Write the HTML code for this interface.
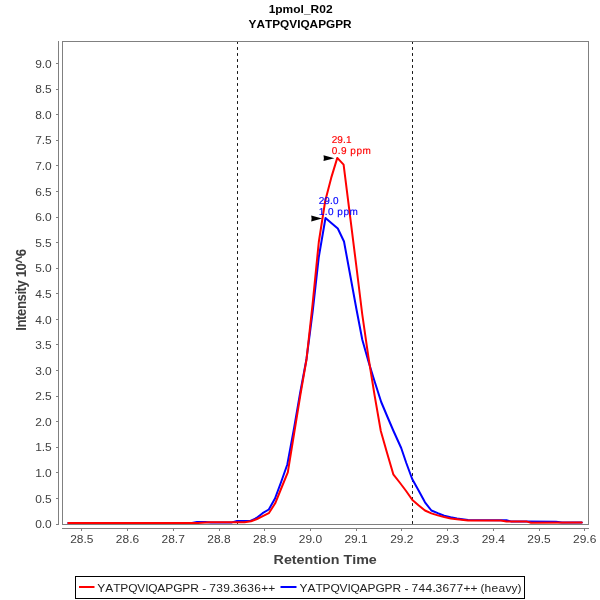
<!DOCTYPE html>
<html><head><meta charset="utf-8"><title>chart</title>
<style>
html,body{margin:0;padding:0;background:#fff;}
body{width:600px;height:600px;overflow:hidden;}
svg{display:block;will-change:transform;}
text{font-family:"Liberation Sans",sans-serif;font-kerning:none;}
.t{fill:#404040;}
.b{font-weight:bold;}
</style></head><body>
<svg width="600" height="600" viewBox="0 0 600 600">
<rect x="0" y="0" width="600" height="600" fill="#ffffff"/>
<text transform="translate(300.6,13) scale(1.09,1)" font-size="11" text-anchor="middle" class="b" fill="#000">1pmol_R02</text>
<text transform="translate(300.1,27.6) scale(1.075,1)" font-size="11" text-anchor="middle" class="b" fill="#000">YATPQVIQAPGPR</text>
<line x1="237.5" y1="41.1" x2="237.5" y2="524" stroke="#111" stroke-width="1" stroke-dasharray="2.8,3.2"/>
<line x1="412.5" y1="41.1" x2="412.5" y2="524" stroke="#111" stroke-width="1" stroke-dasharray="2.8,3.2"/>
<polyline points="68.3,523.0 192.0,523.0 197.0,521.9 205.0,521.9 211.0,522.4 232.0,522.4 237.0,520.9 247.0,520.9 250.4,521.0 256.5,518.0 262.6,513.2 268.8,509.5 275.0,498.5 281.3,481.5 287.3,464.5 294.1,428.0 300.3,392.0 306.5,359.0 312.6,312.0 318.8,257.0 325.5,218.0 331.6,223.2 337.8,228.5 344.0,241.5 350.4,276.2 356.6,310.0 362.3,339.7 368.6,362.0 374.8,382.0 381.2,402.0 387.5,417.0 393.5,431.0 401.2,448.0 406.3,463.0 412.2,479.0 418.6,490.6 425.0,502.3 431.4,510.5 437.8,513.2 444.2,515.6 450.6,517.2 457.0,518.5 468.0,520.1 500.0,520.2 506.5,520.3 511.0,521.4 526.5,521.6 556.0,521.7 562.0,522.6 581.8,522.5" fill="none" stroke="#0000ff" stroke-width="2" stroke-linejoin="round" stroke-linecap="round"/>
<polyline points="68.3,523.0 198.0,523.0 210.0,522.3 237.0,522.3 244.5,522.3 251.0,521.3 257.0,519.0 262.8,516.2 268.8,513.2 275.2,503.3 281.6,487.5 287.8,472.3 294.1,433.7 300.3,395.4 306.5,359.5 312.6,304.0 318.8,242.0 325.2,201.0 331.2,177.9 337.3,157.9 343.6,164.6 349.8,213.9 356.2,265.0 362.2,314.0 368.4,357.0 374.6,395.3 380.8,431.0 387.0,452.7 393.3,474.3 399.7,482.5 406.1,491.0 412.4,500.0 418.8,505.5 425.0,510.5 431.4,513.4 437.8,515.4 444.2,517.0 450.7,518.4 457.0,519.2 468.0,520.4 501.0,520.4 506.5,521.5 527.0,521.6 531.0,522.7 581.8,522.6" fill="none" stroke="#ff0000" stroke-width="2" stroke-linejoin="round" stroke-linecap="round"/>
<rect x="62.5" y="41.5" width="526" height="483" fill="none" stroke="#808080" stroke-width="1"/>
<line x1="58.5" y1="41" x2="58.5" y2="525" stroke="#808080" stroke-width="1"/>
<line x1="62" y1="528.5" x2="589" y2="528.5" stroke="#808080" stroke-width="1"/>
<line x1="56" y1="524.5" x2="58" y2="524.5" stroke="#808080" stroke-width="1"/><text transform="translate(51.8,528.1) scale(1.09,1)" font-size="11" text-anchor="end" class="t">0.0</text>
<line x1="56" y1="498.5" x2="58" y2="498.5" stroke="#808080" stroke-width="1"/><text transform="translate(51.8,502.6) scale(1.09,1)" font-size="11" text-anchor="end" class="t">0.5</text>
<line x1="56" y1="472.5" x2="58" y2="472.5" stroke="#808080" stroke-width="1"/><text transform="translate(51.8,477.0) scale(1.09,1)" font-size="11" text-anchor="end" class="t">1.0</text>
<line x1="56" y1="447.5" x2="58" y2="447.5" stroke="#808080" stroke-width="1"/><text transform="translate(51.8,451.4) scale(1.09,1)" font-size="11" text-anchor="end" class="t">1.5</text>
<line x1="56" y1="421.5" x2="58" y2="421.5" stroke="#808080" stroke-width="1"/><text transform="translate(51.8,425.8) scale(1.09,1)" font-size="11" text-anchor="end" class="t">2.0</text>
<line x1="56" y1="396.5" x2="58" y2="396.5" stroke="#808080" stroke-width="1"/><text transform="translate(51.8,400.2) scale(1.09,1)" font-size="11" text-anchor="end" class="t">2.5</text>
<line x1="56" y1="370.5" x2="58" y2="370.5" stroke="#808080" stroke-width="1"/><text transform="translate(51.8,374.7) scale(1.09,1)" font-size="11" text-anchor="end" class="t">3.0</text>
<line x1="56" y1="344.5" x2="58" y2="344.5" stroke="#808080" stroke-width="1"/><text transform="translate(51.8,349.1) scale(1.09,1)" font-size="11" text-anchor="end" class="t">3.5</text>
<line x1="56" y1="319.5" x2="58" y2="319.5" stroke="#808080" stroke-width="1"/><text transform="translate(51.8,323.5) scale(1.09,1)" font-size="11" text-anchor="end" class="t">4.0</text>
<line x1="56" y1="293.5" x2="58" y2="293.5" stroke="#808080" stroke-width="1"/><text transform="translate(51.8,297.9) scale(1.09,1)" font-size="11" text-anchor="end" class="t">4.5</text>
<line x1="56" y1="268.5" x2="58" y2="268.5" stroke="#808080" stroke-width="1"/><text transform="translate(51.8,272.3) scale(1.09,1)" font-size="11" text-anchor="end" class="t">5.0</text>
<line x1="56" y1="242.5" x2="58" y2="242.5" stroke="#808080" stroke-width="1"/><text transform="translate(51.8,246.8) scale(1.09,1)" font-size="11" text-anchor="end" class="t">5.5</text>
<line x1="56" y1="217.5" x2="58" y2="217.5" stroke="#808080" stroke-width="1"/><text transform="translate(51.8,221.2) scale(1.09,1)" font-size="11" text-anchor="end" class="t">6.0</text>
<line x1="56" y1="191.5" x2="58" y2="191.5" stroke="#808080" stroke-width="1"/><text transform="translate(51.8,195.6) scale(1.09,1)" font-size="11" text-anchor="end" class="t">6.5</text>
<line x1="56" y1="165.5" x2="58" y2="165.5" stroke="#808080" stroke-width="1"/><text transform="translate(51.8,170.0) scale(1.09,1)" font-size="11" text-anchor="end" class="t">7.0</text>
<line x1="56" y1="140.5" x2="58" y2="140.5" stroke="#808080" stroke-width="1"/><text transform="translate(51.8,144.4) scale(1.09,1)" font-size="11" text-anchor="end" class="t">7.5</text>
<line x1="56" y1="114.5" x2="58" y2="114.5" stroke="#808080" stroke-width="1"/><text transform="translate(51.8,118.9) scale(1.09,1)" font-size="11" text-anchor="end" class="t">8.0</text>
<line x1="56" y1="89.5" x2="58" y2="89.5" stroke="#808080" stroke-width="1"/><text transform="translate(51.8,93.3) scale(1.09,1)" font-size="11" text-anchor="end" class="t">8.5</text>
<line x1="56" y1="63.5" x2="58" y2="63.5" stroke="#808080" stroke-width="1"/><text transform="translate(51.8,67.7) scale(1.09,1)" font-size="11" text-anchor="end" class="t">9.0</text>
<line x1="81.5" y1="529" x2="81.5" y2="531" stroke="#808080" stroke-width="1"/><text transform="translate(81.8,543) scale(1.09,1)" font-size="11" text-anchor="middle" class="t">28.5</text>
<line x1="127.5" y1="529" x2="127.5" y2="531" stroke="#808080" stroke-width="1"/><text transform="translate(127.5,543) scale(1.09,1)" font-size="11" text-anchor="middle" class="t">28.6</text>
<line x1="173.5" y1="529" x2="173.5" y2="531" stroke="#808080" stroke-width="1"/><text transform="translate(173.2,543) scale(1.09,1)" font-size="11" text-anchor="middle" class="t">28.7</text>
<line x1="219.5" y1="529" x2="219.5" y2="531" stroke="#808080" stroke-width="1"/><text transform="translate(218.9,543) scale(1.09,1)" font-size="11" text-anchor="middle" class="t">28.8</text>
<line x1="264.5" y1="529" x2="264.5" y2="531" stroke="#808080" stroke-width="1"/><text transform="translate(264.7,543) scale(1.09,1)" font-size="11" text-anchor="middle" class="t">28.9</text>
<line x1="310.5" y1="529" x2="310.5" y2="531" stroke="#808080" stroke-width="1"/><text transform="translate(310.4,543) scale(1.09,1)" font-size="11" text-anchor="middle" class="t">29.0</text>
<line x1="356.5" y1="529" x2="356.5" y2="531" stroke="#808080" stroke-width="1"/><text transform="translate(356.1,543) scale(1.09,1)" font-size="11" text-anchor="middle" class="t">29.1</text>
<line x1="401.5" y1="529" x2="401.5" y2="531" stroke="#808080" stroke-width="1"/><text transform="translate(401.8,543) scale(1.09,1)" font-size="11" text-anchor="middle" class="t">29.2</text>
<line x1="447.5" y1="529" x2="447.5" y2="531" stroke="#808080" stroke-width="1"/><text transform="translate(447.6,543) scale(1.09,1)" font-size="11" text-anchor="middle" class="t">29.3</text>
<line x1="493.5" y1="529" x2="493.5" y2="531" stroke="#808080" stroke-width="1"/><text transform="translate(493.3,543) scale(1.09,1)" font-size="11" text-anchor="middle" class="t">29.4</text>
<line x1="539.5" y1="529" x2="539.5" y2="531" stroke="#808080" stroke-width="1"/><text transform="translate(539.0,543) scale(1.09,1)" font-size="11" text-anchor="middle" class="t">29.5</text>
<line x1="584.5" y1="529" x2="584.5" y2="531" stroke="#808080" stroke-width="1"/><text transform="translate(584.7,543) scale(1.09,1)" font-size="11" text-anchor="middle" class="t">29.6</text>
<text transform="translate(325.2,563.6) scale(1.1,1)" font-size="13" text-anchor="middle" class="b" fill="#404040">Retention Time</text>
<text transform="translate(26,290.1) rotate(-90) scale(0.94,1)" text-anchor="middle" class="b" font-size="14" fill="#404040" letter-spacing="-0.45">Intensity 10^6</text>
<g transform="translate(331.7,143) rotate(0.05)" font-size="10" fill="#ff0000" stroke="#ff0000" stroke-width="0.15"><text x="0" y="0" letter-spacing="0.1">29.1</text>
<text x="0" y="10.9" letter-spacing="0.5">0.9 ppm</text></g>
<g transform="translate(318.7,204) rotate(0.05)" font-size="10" fill="#0000ff" stroke="#0000ff" stroke-width="0.15"><text x="0" y="0" letter-spacing="0.1">29.0</text>
<text x="0" y="10.9" letter-spacing="0.5">1.0 ppm</text></g>
<path d="M334.4,158.2 L323.5,155.29999999999998 L323.9,158.2 L323.5,161.1 Z" fill="#000"/>
<path d="M322.1,218.5 L311.20000000000005,215.6 L311.6,218.5 L311.20000000000005,221.4 Z" fill="#000"/>
<rect x="75.5" y="576.5" width="449" height="22" fill="#fff" stroke="#000" stroke-width="1"/>
<line x1="79" y1="587" x2="94.5" y2="587" stroke="#ff0000" stroke-width="2"/>
<text transform="translate(97.3,591.6) scale(1.09,1)" font-size="11" x="0.00 7.34 14.68 21.10 28.44 36.70 44.04 46.79 55.05 62.39 69.72 77.98 85.32 93.58 96.33 100.00 102.75 109.17 115.60 122.02 124.77 131.19 137.61 144.04 150.46 156.88" y="0" fill="#222">YATPQVIQAPGPR - 739.3636++</text>
<line x1="280.5" y1="587" x2="296.5" y2="587" stroke="#0000ff" stroke-width="2"/>
<text transform="translate(299.5,591.6) scale(1.09,1)" font-size="11" x="0.00 7.34 14.68 21.10 28.44 36.70 44.04 46.79 55.05 62.39 69.72 77.98 85.32 93.58 96.33 100.00 102.75 109.17 115.60 122.02 124.77 131.19 137.61 144.04 150.46 156.88 163.30 166.06 169.72 176.15 182.57 188.99 194.50 200.00" y="0" fill="#222">YATPQVIQAPGPR - 744.3677++ (heavy)</text>
</svg>
</body></html>
